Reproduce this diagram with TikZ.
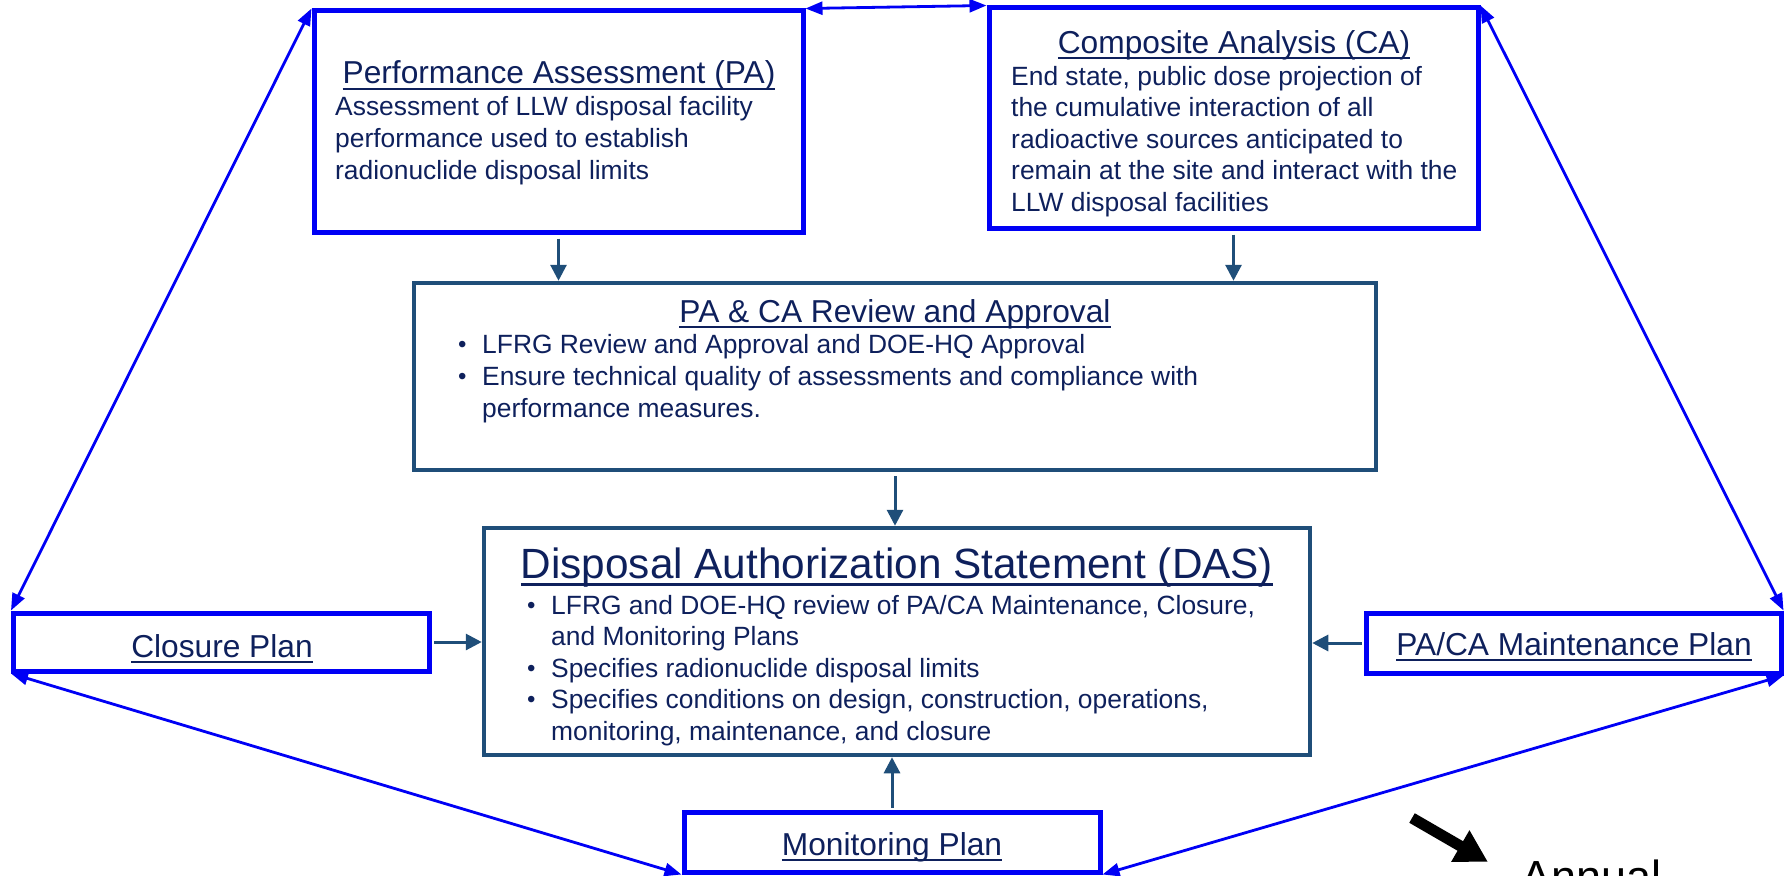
\documentclass[tikz,border=0pt]{standalone}
\usepackage{fontspec}
\setmainfont{Liberation Sans}
\usetikzlibrary{arrows.meta}
\definecolor{boxblue}{RGB}{0,0,245}
\definecolor{navyline}{RGB}{31,78,121}
\definecolor{navytext}{RGB}{14,32,92}
\newcommand{\ulined}[1]{\setbox0\hbox{#1}\rlap{\rule[-0.2em]{\wd0}{0.085em}}\box0}
\newcommand{\blt}{\makebox[24pt][l]{\raisebox{1pt}{\fontsize{24}{24}\selectfont\textbullet}}}

\begin{document}
\begin{tikzpicture}[x=1pt,y=-1pt,
	bluebox/.style={draw=boxblue,line width=5pt,inner sep=0pt},
	navybox/.style={draw=navyline,line width=4.5pt,inner sep=0pt},
	bluelink/.style={draw=boxblue,line width=2.8pt,{Triangle[length=17pt,width=13pt]}-{Triangle[length=17pt,width=13pt]}},
	navylink/.style={draw=navyline,line width=3pt,-{Triangle[length=16pt,width=16pt]}},
	titletext/.style={text=navytext,font=\fontsize{31.7}{38}\selectfont,inner sep=0pt},
	bodytext/.style={text=navytext,font=\fontsize{26.4}{31.6}\selectfont,align=left,inner sep=0pt}]
		\useasboundingbox (0,0) rectangle (1790,875);
		
		\node[bluebox,minimum width=489pt,minimum height=221pt] (pa) at (558.5,121.5) {};
		\node[bluebox,minimum width=489pt,minimum height=220pt] (ca) at (1233.5,118) {};
		\node[navybox,minimum width=962pt,minimum height=187pt] (review) at (895,376.5) {};
		\node[navybox,minimum width=826pt,minimum height=227pt] (das) at (897,641.5) {};
		\node[bluebox,minimum width=416pt,minimum height=58pt] (closure) at (221.5,642) {};
		\node[bluebox,minimum width=415pt,minimum height=60pt] (maint) at (1573.5,643) {};
		\node[bluebox,minimum width=416pt,minimum height=60pt] (monitor) at (892,842) {};
		
		% multi-line texts sit on the baseline of their last line
		\node[titletext,anchor=base] (patitle) at (559,84) {\ulined{Performance Assessment (PA)}};
		\node[bodytext,anchor=base west] (patext) at (335,179) {Assessment of LLW disposal facility\\performance used to establish\\radionuclide disposal limits};
		\node[titletext,anchor=base] (catitle) at (1234,53) {\ulined{Composite Analysis (CA)}};
		\node[bodytext,anchor=base west] (catext) at (1011,211.5) {End state, public dose projection of\\the cumulative interaction of all\\radioactive sources anticipated to\\remain at the site and interact with the\\LLW disposal facilities};
		\node[titletext,anchor=base] (revtitle) at (895,322) {\ulined{PA \& CA Review and Approval}};
		\node[bodytext,anchor=base west] (revtext) at (458,417) {\blt LFRG Review and Approval and DOE-HQ Approval\\
			\blt Ensure technical quality of assessments and compliance with\\
			\hspace*{24pt}performance measures.};
		\node[titletext,anchor=base,font=\fontsize{42.3}{50}\selectfont] (dastitle) at (897,578) {\ulined{Disposal Authorization Statement (DAS)}};
		\node[bodytext,anchor=base west] (dastext) at (527,740.5) {\blt LFRG and DOE-HQ review of PA/CA Maintenance, Closure,\\
			\hspace*{24pt}and Monitoring Plans\\
			\blt Specifies radionuclide disposal limits\\
			\blt Specifies conditions on design, construction, operations,\\
			\hspace*{24pt}monitoring, maintenance, and closure};
		\node[titletext,anchor=base] (closuretext) at (222,657) {\ulined{Closure Plan}};
		\node[titletext,anchor=base] (mainttext) at (1574,655) {\ulined{PA/CA Maintenance Plan}};
		\node[titletext,anchor=base] (monitortext) at (892,855) {\ulined{Monitoring Plan}};
		
		\draw[navylink,shorten <=4pt] (pa.south) -- (pa.south |- review.north);
		\draw[navylink,shorten <=4pt] (ca.south) -- (ca.south |- review.north);
		\draw[navylink,shorten <=4pt] (review.south) -- (review.south |- das.north);
		\draw[navylink,shorten <=2pt] (closure.east) -- (closure.east -| das.west);
		\draw[navylink,shorten <=2pt] (maint.west) -- (maint.west -| das.east);
		\draw[navylink,shorten <=2pt] (monitor.north) -- (monitor.north |- das.south);
		
		\draw[bluelink] (pa.north east) -- (ca.north west);
		\draw[bluelink] (pa.north west) -- (closure.north west);
		\draw[bluelink] (ca.north east) -- (maint.north east);
		\draw[bluelink] (closure.south west) -- (monitor.south west);
		\draw[bluelink] (maint.south east) -- (monitor.south east);
		
		\coordinate (anntail) at (1412,818);
		\coordinate (anntip) at (1488,862);
		\draw[line width=11pt,-{Triangle[length=32pt,width=34pt]}] (anntail) -- (anntip);
		\node[anchor=base west,font=\fontsize{45}{54}\selectfont,inner sep=0pt] (annual) at (1521,892) {Annual};
	\end{tikzpicture}
\end{document}
